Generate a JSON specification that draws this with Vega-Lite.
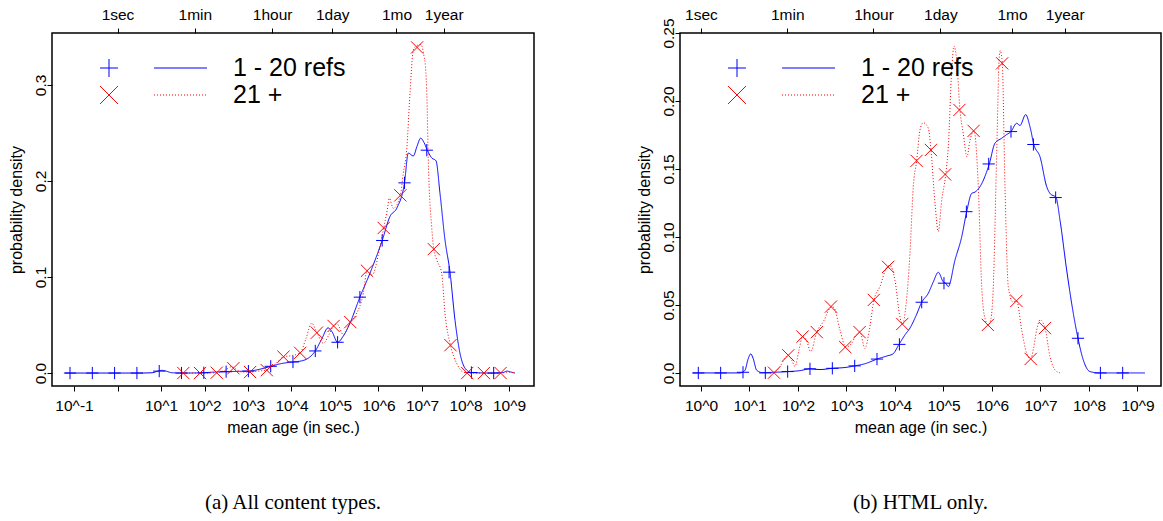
{
  "$schema": "https://vega.github.io/schema/vega-lite/v6.json",
  "autosize": {"type": "none"},
  "padding": {"left": 52, "top": 33, "right": 1111, "bottom": 488},
  "background": "white",
  "bounds": "flush",
  "spacing": 146,
  "datasets": {
    "curves_all": [
      {"refs":"1 - 20 refs","log10_age":-1.207,"density":0},
      {"refs":"1 - 20 refs","log10_age":-0.402,"density":0},
      {"refs":"1 - 20 refs","log10_age":0.517,"density":0},
      {"refs":"1 - 20 refs","log10_age":0.793,"density":0.0003},
      {"refs":"1 - 20 refs","log10_age":0.931,"density":0.002},
      {"refs":"1 - 20 refs","log10_age":1.023,"density":0.0028},
      {"refs":"1 - 20 refs","log10_age":1.115,"density":0.002},
      {"refs":"1 - 20 refs","log10_age":1.253,"density":0.0003},
      {"refs":"1 - 20 refs","log10_age":1.552,"density":0},
      {"refs":"1 - 20 refs","log10_age":1.897,"density":0.0002},
      {"refs":"1 - 20 refs","log10_age":2.241,"density":0.001},
      {"refs":"1 - 20 refs","log10_age":2.494,"density":0.0014},
      {"refs":"1 - 20 refs","log10_age":2.816,"density":0.0018},
      {"refs":"1 - 20 refs","log10_age":3.009,"density":0.002},
      {"refs":"1 - 20 refs","log10_age":3.276,"density":0.004},
      {"refs":"1 - 20 refs","log10_age":3.522,"density":0.007},
      {"refs":"1 - 20 refs","log10_age":3.782,"density":0.010},
      {"refs":"1 - 20 refs","log10_age":4.034,"density":0.0115},
      {"refs":"1 - 20 refs","log10_age":4.264,"density":0.013},
      {"refs":"1 - 20 refs","log10_age":4.402,"density":0.016},
      {"refs":"1 - 20 refs","log10_age":4.547,"density":0.023},
      {"refs":"1 - 20 refs","log10_age":4.701,"density":0.036},
      {"refs":"1 - 20 refs","log10_age":4.839,"density":0.047},
      {"refs":"1 - 20 refs","log10_age":4.931,"density":0.043},
      {"refs":"1 - 20 refs","log10_age":5.060,"density":0.032},
      {"refs":"1 - 20 refs","log10_age":5.184,"density":0.038},
      {"refs":"1 - 20 refs","log10_age":5.345,"density":0.052},
      {"refs":"1 - 20 refs","log10_age":5.572,"density":0.079},
      {"refs":"1 - 20 refs","log10_age":5.805,"density":0.104},
      {"refs":"1 - 20 refs","log10_age":6.085,"density":0.138},
      {"refs":"1 - 20 refs","log10_age":6.264,"density":0.163},
      {"refs":"1 - 20 refs","log10_age":6.425,"density":0.172},
      {"refs":"1 - 20 refs","log10_age":6.598,"density":0.198},
      {"refs":"1 - 20 refs","log10_age":6.685,"density":0.229},
      {"refs":"1 - 20 refs","log10_age":6.800,"density":0.226},
      {"refs":"1 - 20 refs","log10_age":6.885,"density":0.236},
      {"refs":"1 - 20 refs","log10_age":6.970,"density":0.2445},
      {"refs":"1 - 20 refs","log10_age":7.046,"density":0.240},
      {"refs":"1 - 20 refs","log10_age":7.122,"density":0.232},
      {"refs":"1 - 20 refs","log10_age":7.223,"density":0.224},
      {"refs":"1 - 20 refs","log10_age":7.322,"density":0.221},
      {"refs":"1 - 20 refs","log10_age":7.414,"density":0.187},
      {"refs":"1 - 20 refs","log10_age":7.529,"density":0.1385},
      {"refs":"1 - 20 refs","log10_age":7.644,"density":0.105},
      {"refs":"1 - 20 refs","log10_age":7.759,"density":0.055},
      {"refs":"1 - 20 refs","log10_age":7.874,"density":0.0205},
      {"refs":"1 - 20 refs","log10_age":8.028,"density":0.003},
      {"refs":"1 - 20 refs","log10_age":8.149,"density":0.0005},
      {"refs":"1 - 20 refs","log10_age":8.563,"density":0},
      {"refs":"1 - 20 refs","log10_age":8.862,"density":0.0005},
      {"refs":"1 - 20 refs","log10_age":8.954,"density":0.002},
      {"refs":"1 - 20 refs","log10_age":9.046,"density":0.001},
      {"refs":"1 - 20 refs","log10_age":9.138,"density":0},
      {"refs":"21 +","log10_age":1.437,"density":0},
      {"refs":"21 +","log10_age":1.513,"density":0},
      {"refs":"21 +","log10_age":1.897,"density":0},
      {"refs":"21 +","log10_age":2.280,"density":0.0003},
      {"refs":"21 +","log10_age":2.471,"density":0.003},
      {"refs":"21 +","log10_age":2.625,"density":0.0066},
      {"refs":"21 +","log10_age":2.724,"density":0.004},
      {"refs":"21 +","log10_age":2.862,"density":0.001},
      {"refs":"21 +","log10_age":3.048,"density":0.001},
      {"refs":"21 +","log10_age":3.230,"density":0.002},
      {"refs":"21 +","log10_age":3.432,"density":0.003},
      {"refs":"21 +","log10_age":3.621,"density":0.009},
      {"refs":"21 +","log10_age":3.816,"density":0.017},
      {"refs":"21 +","log10_age":3.989,"density":0.018},
      {"refs":"21 +","log10_age":4.200,"density":0.021},
      {"refs":"21 +","log10_age":4.333,"density":0.036},
      {"refs":"21 +","log10_age":4.464,"density":0.052},
      {"refs":"21 +","log10_age":4.584,"density":0.042},
      {"refs":"21 +","log10_age":4.731,"density":0.031},
      {"refs":"21 +","log10_age":4.862,"density":0.040},
      {"refs":"21 +","log10_age":4.977,"density":0.050},
      {"refs":"21 +","log10_age":5.046,"density":0.051},
      {"refs":"21 +","log10_age":5.191,"density":0.040},
      {"refs":"21 +","log10_age":5.352,"density":0.053},
      {"refs":"21 +","log10_age":5.483,"density":0.061},
      {"refs":"21 +","log10_age":5.651,"density":0.083},
      {"refs":"21 +","log10_age":5.736,"density":0.1065},
      {"refs":"21 +","log10_age":5.851,"density":0.102},
      {"refs":"21 +","log10_age":6.034,"density":0.1316},
      {"refs":"21 +","log10_age":6.120,"density":0.151},
      {"refs":"21 +","log10_age":6.202,"density":0.170},
      {"refs":"21 +","log10_age":6.248,"density":0.182},
      {"refs":"21 +","log10_age":6.340,"density":0.1715},
      {"refs":"21 +","log10_age":6.503,"density":0.185},
      {"refs":"21 +","log10_age":6.570,"density":0.208},
      {"refs":"21 +","log10_age":6.648,"density":0.232},
      {"refs":"21 +","log10_age":6.724,"density":0.291},
      {"refs":"21 +","log10_age":6.800,"density":0.336},
      {"refs":"21 +","log10_age":6.887,"density":0.341},
      {"refs":"21 +","log10_age":6.977,"density":0.342},
      {"refs":"21 +","log10_age":7.046,"density":0.330},
      {"refs":"21 +","log10_age":7.080,"density":0.319},
      {"refs":"21 +","log10_age":7.115,"density":0.284},
      {"refs":"21 +","log10_age":7.145,"density":0.222},
      {"refs":"21 +","log10_age":7.223,"density":0.152},
      {"refs":"21 +","log10_age":7.271,"density":0.129},
      {"refs":"21 +","log10_age":7.338,"density":0.118},
      {"refs":"21 +","log10_age":7.453,"density":0.104},
      {"refs":"21 +","log10_age":7.529,"density":0.062},
      {"refs":"21 +","log10_age":7.655,"density":0.029},
      {"refs":"21 +","log10_age":7.798,"density":0.010},
      {"refs":"21 +","log10_age":7.949,"density":0.001},
      {"refs":"21 +","log10_age":8.103,"density":0},
      {"refs":"21 +","log10_age":8.423,"density":0},
      {"refs":"21 +","log10_age":8.807,"density":0},
      {"refs":"21 +","log10_age":8.977,"density":0.001},
      {"refs":"21 +","log10_age":9.138,"density":0}
    ],
    "markers_all": [
      {"refs":"1 - 20 refs","log10_age":-1.092,"density":0},
      {"refs":"1 - 20 refs","log10_age":-0.579,"density":0},
      {"refs":"1 - 20 refs","log10_age":-0.067,"density":0},
      {"refs":"1 - 20 refs","log10_age":0.446,"density":0},
      {"refs":"1 - 20 refs","log10_age":0.959,"density":0.002},
      {"refs":"1 - 20 refs","log10_age":1.471,"density":0},
      {"refs":"1 - 20 refs","log10_age":1.984,"density":0.0003},
      {"refs":"1 - 20 refs","log10_age":2.497,"density":0.0014},
      {"refs":"1 - 20 refs","log10_age":3.009,"density":0.002},
      {"refs":"1 - 20 refs","log10_age":3.522,"density":0.007},
      {"refs":"1 - 20 refs","log10_age":4.034,"density":0.0115},
      {"refs":"1 - 20 refs","log10_age":4.547,"density":0.023},
      {"refs":"1 - 20 refs","log10_age":5.060,"density":0.032},
      {"refs":"1 - 20 refs","log10_age":5.572,"density":0.079},
      {"refs":"1 - 20 refs","log10_age":6.085,"density":0.138},
      {"refs":"1 - 20 refs","log10_age":6.598,"density":0.198},
      {"refs":"1 - 20 refs","log10_age":7.110,"density":0.232},
      {"refs":"1 - 20 refs","log10_age":7.623,"density":0.105},
      {"refs":"1 - 20 refs","log10_age":8.136,"density":0.0005},
      {"refs":"1 - 20 refs","log10_age":8.648,"density":0},
      {"refs":"21 +","log10_age":1.513,"density":0},
      {"refs":"21 +","log10_age":1.897,"density":0},
      {"refs":"21 +","log10_age":2.280,"density":0.0003},
      {"refs":"21 +","log10_age":2.664,"density":0.005},
      {"refs":"21 +","log10_age":3.048,"density":0.001},
      {"refs":"21 +","log10_age":3.432,"density":0.003},
      {"refs":"21 +","log10_age":3.816,"density":0.017},
      {"refs":"21 +","log10_age":4.200,"density":0.021},
      {"refs":"21 +","log10_age":4.584,"density":0.042},
      {"refs":"21 +","log10_age":4.968,"density":0.049},
      {"refs":"21 +","log10_age":5.352,"density":0.053},
      {"refs":"21 +","log10_age":5.736,"density":0.1065},
      {"refs":"21 +","log10_age":6.120,"density":0.151},
      {"refs":"21 +","log10_age":6.503,"density":0.185},
      {"refs":"21 +","log10_age":6.887,"density":0.339},
      {"refs":"21 +","log10_age":7.271,"density":0.129},
      {"refs":"21 +","log10_age":7.655,"density":0.029},
      {"refs":"21 +","log10_age":8.039,"density":0},
      {"refs":"21 +","log10_age":8.423,"density":0},
      {"refs":"21 +","log10_age":8.807,"density":0}
    ],
    "curves_html": [
      {"refs":"1 - 20 refs","log10_age":-0.165,"density":0},
      {"refs":"1 - 20 refs","log10_age":0.392,"density":0},
      {"refs":"1 - 20 refs","log10_age":0.804,"density":0},
      {"refs":"1 - 20 refs","log10_age":0.907,"density":0.002},
      {"refs":"1 - 20 refs","log10_age":0.969,"density":0.010},
      {"refs":"1 - 20 refs","log10_age":1.025,"density":0.014},
      {"refs":"1 - 20 refs","log10_age":1.072,"density":0.011},
      {"refs":"1 - 20 refs","log10_age":1.148,"density":0.002},
      {"refs":"1 - 20 refs","log10_age":1.258,"density":0.0003},
      {"refs":"1 - 20 refs","log10_age":1.526,"density":0.0005},
      {"refs":"1 - 20 refs","log10_age":1.788,"density":0.001},
      {"refs":"1 - 20 refs","log10_age":2.041,"density":0.0017},
      {"refs":"1 - 20 refs","log10_age":2.247,"density":0.003},
      {"refs":"1 - 20 refs","log10_age":2.454,"density":0.0025},
      {"refs":"1 - 20 refs","log10_age":2.707,"density":0.0034},
      {"refs":"1 - 20 refs","log10_age":2.969,"density":0.004},
      {"refs":"1 - 20 refs","log10_age":3.175,"density":0.0052},
      {"refs":"1 - 20 refs","log10_age":3.402,"density":0.007},
      {"refs":"1 - 20 refs","log10_age":3.629,"density":0.0102},
      {"refs":"1 - 20 refs","log10_age":3.835,"density":0.0125},
      {"refs":"1 - 20 refs","log10_age":3.959,"density":0.014},
      {"refs":"1 - 20 refs","log10_age":4.082,"density":0.021},
      {"refs":"1 - 20 refs","log10_age":4.206,"density":0.028},
      {"refs":"1 - 20 refs","log10_age":4.309,"density":0.033},
      {"refs":"1 - 20 refs","log10_age":4.433,"density":0.042},
      {"refs":"1 - 20 refs","log10_age":4.551,"density":0.052},
      {"refs":"1 - 20 refs","log10_age":4.687,"density":0.0586},
      {"refs":"1 - 20 refs","log10_age":4.790,"density":0.067},
      {"refs":"1 - 20 refs","log10_age":4.893,"density":0.074},
      {"refs":"1 - 20 refs","log10_age":4.996,"density":0.067},
      {"refs":"1 - 20 refs","log10_age":5.046,"density":0.066},
      {"refs":"1 - 20 refs","log10_age":5.099,"density":0.0635},
      {"refs":"1 - 20 refs","log10_age":5.237,"density":0.083},
      {"refs":"1 - 20 refs","log10_age":5.375,"density":0.100},
      {"refs":"1 - 20 refs","log10_age":5.478,"density":0.1186},
      {"refs":"1 - 20 refs","log10_age":5.581,"density":0.132},
      {"refs":"1 - 20 refs","log10_age":5.649,"density":0.133},
      {"refs":"1 - 20 refs","log10_age":5.753,"density":0.137},
      {"refs":"1 - 20 refs","log10_age":5.944,"density":0.1537},
      {"refs":"1 - 20 refs","log10_age":6.062,"density":0.169},
      {"refs":"1 - 20 refs","log10_age":6.200,"density":0.1726},
      {"refs":"1 - 20 refs","log10_age":6.289,"density":0.175},
      {"refs":"1 - 20 refs","log10_age":6.392,"density":0.1775},
      {"refs":"1 - 20 refs","log10_age":6.509,"density":0.1836},
      {"refs":"1 - 20 refs","log10_age":6.577,"density":0.182},
      {"refs":"1 - 20 refs","log10_age":6.695,"density":0.190},
      {"refs":"1 - 20 refs","log10_age":6.784,"density":0.181},
      {"refs":"1 - 20 refs","log10_age":6.866,"density":0.1676},
      {"refs":"1 - 20 refs","log10_age":6.990,"density":0.159},
      {"refs":"1 - 20 refs","log10_age":7.128,"density":0.137},
      {"refs":"1 - 20 refs","log10_age":7.196,"density":0.132},
      {"refs":"1 - 20 refs","log10_age":7.320,"density":0.129},
      {"refs":"1 - 20 refs","log10_age":7.402,"density":0.1125},
      {"refs":"1 - 20 refs","log10_age":7.540,"density":0.0757},
      {"refs":"1 - 20 refs","log10_age":7.676,"density":0.044},
      {"refs":"1 - 20 refs","log10_age":7.773,"density":0.0255},
      {"refs":"1 - 20 refs","log10_age":7.882,"density":0.0096},
      {"refs":"1 - 20 refs","log10_age":8.021,"density":0.001},
      {"refs":"1 - 20 refs","log10_age":8.227,"density":0},
      {"refs":"1 - 20 refs","log10_age":9.155,"density":0},
      {"refs":"21 +","log10_age":1.423,"density":0},
      {"refs":"21 +","log10_age":1.505,"density":0.0002},
      {"refs":"21 +","log10_age":1.629,"density":0.0047},
      {"refs":"21 +","log10_age":1.732,"density":0.011},
      {"refs":"21 +","log10_age":1.800,"density":0.013},
      {"refs":"21 +","log10_age":1.876,"density":0.009},
      {"refs":"21 +","log10_age":1.938,"density":0.0047},
      {"refs":"21 +","log10_age":2.021,"density":0.017},
      {"refs":"21 +","log10_age":2.097,"density":0.0267},
      {"refs":"21 +","log10_age":2.165,"density":0.025},
      {"refs":"21 +","log10_age":2.262,"density":0.0157},
      {"refs":"21 +","log10_age":2.386,"density":0.030},
      {"refs":"21 +","log10_age":2.522,"density":0.0377},
      {"refs":"21 +","log10_age":2.695,"density":0.0488},
      {"refs":"21 +","log10_age":2.742,"density":0.048},
      {"refs":"21 +","log10_age":2.866,"density":0.0316},
      {"refs":"21 +","log10_age":2.984,"density":0.019},
      {"refs":"21 +","log10_age":3.107,"density":0.0218},
      {"refs":"21 +","log10_age":3.196,"density":0.028},
      {"refs":"21 +","log10_age":3.278,"density":0.030},
      {"refs":"21 +","log10_age":3.381,"density":0.018},
      {"refs":"21 +","log10_age":3.464,"density":0.030},
      {"refs":"21 +","log10_age":3.567,"density":0.0537},
      {"refs":"21 +","log10_age":3.691,"density":0.0635},
      {"refs":"21 +","log10_age":3.835,"density":0.078},
      {"refs":"21 +","log10_age":3.897,"density":0.079},
      {"refs":"21 +","log10_age":4.000,"density":0.068},
      {"refs":"21 +","log10_age":4.103,"density":0.041},
      {"refs":"21 +","log10_age":4.159,"density":0.036},
      {"refs":"21 +","log10_age":4.227,"density":0.050},
      {"refs":"21 +","log10_age":4.309,"density":0.088},
      {"refs":"21 +","log10_age":4.377,"density":0.137},
      {"refs":"21 +","log10_age":4.447,"density":0.156},
      {"refs":"21 +","log10_age":4.515,"density":0.1787},
      {"refs":"21 +","log10_age":4.584,"density":0.184},
      {"refs":"21 +","log10_age":4.687,"density":0.180},
      {"refs":"21 +","log10_age":4.742,"density":0.164},
      {"refs":"21 +","log10_age":4.825,"density":0.1248},
      {"refs":"21 +","log10_age":4.893,"density":0.104},
      {"refs":"21 +","log10_age":4.963,"density":0.127},
      {"refs":"21 +","log10_age":5.046,"density":0.146},
      {"refs":"21 +","log10_age":5.099,"density":0.1664},
      {"refs":"21 +","log10_age":5.170,"density":0.2228},
      {"refs":"21 +","log10_age":5.216,"density":0.2404},
      {"refs":"21 +","log10_age":5.272,"density":0.230},
      {"refs":"21 +","log10_age":5.340,"density":0.1934},
      {"refs":"21 +","log10_age":5.408,"density":0.176},
      {"refs":"21 +","log10_age":5.485,"density":0.159},
      {"refs":"21 +","log10_age":5.546,"density":0.171},
      {"refs":"21 +","log10_age":5.629,"density":0.178},
      {"refs":"21 +","log10_age":5.718,"density":0.137},
      {"refs":"21 +","log10_age":5.788,"density":0.0635},
      {"refs":"21 +","log10_age":5.856,"density":0.040},
      {"refs":"21 +","log10_age":5.924,"density":0.0353},
      {"refs":"21 +","log10_age":5.979,"density":0.040},
      {"refs":"21 +","log10_age":6.027,"density":0.0635},
      {"refs":"21 +","log10_age":6.097,"density":0.1615},
      {"refs":"21 +","log10_age":6.150,"density":0.232},
      {"refs":"21 +","log10_age":6.171,"density":0.237},
      {"refs":"21 +","log10_age":6.212,"density":0.2277},
      {"refs":"21 +","log10_age":6.268,"density":0.137},
      {"refs":"21 +","log10_age":6.336,"density":0.0635},
      {"refs":"21 +","log10_age":6.427,"density":0.0524},
      {"refs":"21 +","log10_age":6.509,"density":0.053},
      {"refs":"21 +","log10_age":6.612,"density":0.0316},
      {"refs":"21 +","log10_age":6.715,"density":0.0145},
      {"refs":"21 +","log10_age":6.798,"density":0.0103},
      {"refs":"21 +","log10_age":6.856,"density":0.018},
      {"refs":"21 +","log10_age":6.922,"density":0.0316},
      {"refs":"21 +","log10_age":6.990,"density":0.039},
      {"refs":"21 +","log10_age":7.093,"density":0.033},
      {"refs":"21 +","log10_age":7.196,"density":0.012},
      {"refs":"21 +","log10_age":7.299,"density":0.0022},
      {"refs":"21 +","log10_age":7.402,"density":0}
    ],
    "markers_html": [
      {"refs":"1 - 20 refs","log10_age":-0.056,"density":0},
      {"refs":"1 - 20 refs","log10_age":0.405,"density":0},
      {"refs":"1 - 20 refs","log10_age":0.866,"density":0.0005},
      {"refs":"1 - 20 refs","log10_age":1.326,"density":0},
      {"refs":"1 - 20 refs","log10_age":1.787,"density":0.001},
      {"refs":"1 - 20 refs","log10_age":2.247,"density":0.003},
      {"refs":"1 - 20 refs","log10_age":2.708,"density":0.0034},
      {"refs":"1 - 20 refs","log10_age":3.169,"density":0.0052},
      {"refs":"1 - 20 refs","log10_age":3.629,"density":0.0102},
      {"refs":"1 - 20 refs","log10_age":4.091,"density":0.021},
      {"refs":"1 - 20 refs","log10_age":4.551,"density":0.052},
      {"refs":"1 - 20 refs","log10_age":5.010,"density":0.066},
      {"refs":"1 - 20 refs","log10_age":5.472,"density":0.1186},
      {"refs":"1 - 20 refs","log10_age":5.932,"density":0.1537},
      {"refs":"1 - 20 refs","log10_age":6.392,"density":0.1775},
      {"refs":"1 - 20 refs","log10_age":6.854,"density":0.168},
      {"refs":"1 - 20 refs","log10_age":7.313,"density":0.129},
      {"refs":"1 - 20 refs","log10_age":7.773,"density":0.0255},
      {"refs":"1 - 20 refs","log10_age":8.235,"density":0},
      {"refs":"1 - 20 refs","log10_age":8.695,"density":0},
      {"refs":"21 +","log10_age":1.505,"density":0.0002},
      {"refs":"21 +","log10_age":1.800,"density":0.013},
      {"refs":"21 +","log10_age":2.093,"density":0.0267},
      {"refs":"21 +","log10_age":2.388,"density":0.030},
      {"refs":"21 +","log10_age":2.680,"density":0.0488},
      {"refs":"21 +","log10_age":2.975,"density":0.019},
      {"refs":"21 +","log10_age":3.270,"density":0.030},
      {"refs":"21 +","log10_age":3.563,"density":0.0537},
      {"refs":"21 +","log10_age":3.858,"density":0.078},
      {"refs":"21 +","log10_age":4.150,"density":0.036},
      {"refs":"21 +","log10_age":4.445,"density":0.156},
      {"refs":"21 +","log10_age":4.740,"density":0.164},
      {"refs":"21 +","log10_age":5.033,"density":0.146},
      {"refs":"21 +","log10_age":5.328,"density":0.1934},
      {"refs":"21 +","log10_age":5.621,"density":0.178},
      {"refs":"21 +","log10_age":5.915,"density":0.0353},
      {"refs":"21 +","log10_age":6.210,"density":0.2277},
      {"refs":"21 +","log10_age":6.503,"density":0.053},
      {"refs":"21 +","log10_age":6.798,"density":0.0103},
      {"refs":"21 +","log10_age":7.091,"density":0.033}
    ]
  },
  "hconcat": [
    {
      "width": 482,
      "height": 353,
      "title": {"text": "(a) All content types.", "orient": "bottom", "frame": "group", "anchor": "middle", "font": "Liberation Serif", "fontSize": 21, "fontWeight": "normal", "color": "black", "offset": 56},
      "layer": [
        {
          "data": {"name": "curves_all"},
          "mark": {"type": "line", "interpolate": "monotone", "strokeWidth": 1},
          "encoding": {
            "x": {"field": "log10_age", "type": "quantitative", "scale": {"domain": [-1.506, 9.575], "nice": false, "zero": false},
              "axis": {"orient": "bottom", "values": [-1,0,1,2,3,4,5,6,7,8,9], "labelExpr": "datum.value == 0 ? '' : '10^' + datum.value", "title": "mean age (in sec.)", "labelBaseline": "top", "labelPadding": 7, "titlePadding": 6}},
            "y": {"field": "density", "type": "quantitative", "scale": {"domain": [-0.0135, 0.354], "nice": false, "zero": false},
              "axis": {"orient": "left", "values": [0, 0.1, 0.2, 0.3], "labelExpr": "format(datum.value, '.1f')", "title": "probability density", "labelAngle": -90, "labelAlign": "center", "labelBaseline": "alphabetic", "labelPadding": 2, "titlePadding": 9}},
            "color": {"field": "refs", "type": "nominal", "scale": {"domain": ["1 - 20 refs", "21 +"], "range": ["#0000ff", "#ff0000"]},
              "legend": {"orient": "none", "legendX": 116, "legendY": 22.5, "title": null, "padding": 0, "symbolType": "M-2.944,0H2.944", "symbolSize": 324, "symbolStrokeWidth": 1, "labelFont": "Liberation Sans", "labelFontSize": 25, "labelColor": "black", "labelOffset": 40, "rowPadding": 1}},
            "strokeDash": {"field": "refs", "type": "nominal", "scale": {"domain": ["1 - 20 refs", "21 +"], "range": [[1, 0], [1, 2]]},
              "legend": {"orient": "none", "legendX": 116, "legendY": 22.5, "title": null, "padding": 0, "symbolType": "M-2.944,0H2.944", "symbolSize": 324, "symbolStrokeWidth": 1, "labelFont": "Liberation Sans", "labelFontSize": 25, "labelColor": "black", "labelOffset": 40, "rowPadding": 1}}
          }
        },
        {
          "data": {"name": "markers_all"},
          "mark": {"type": "point", "filled": false, "size": 150, "strokeWidth": 1, "opacity": 1},
          "encoding": {
            "x": {"field": "log10_age", "type": "quantitative", "scale": {"domain": [-1.506, 9.575], "nice": false, "zero": false},
              "axis": {"orient": "top", "values": [0, 1.77815, 3.5563, 4.93651, 6.41363, 7.49881], "labelExpr": "datum.value < 0.5 ? '1sec' : datum.value < 2 ? '1min' : datum.value < 4 ? '1hour' : datum.value < 5.5 ? '1day' : datum.value < 7 ? '1mo' : '1year'", "title": null, "labelBaseline": "alphabetic", "labelPadding": 9}},
            "y": {"field": "density", "type": "quantitative", "scale": {"domain": [-0.0135, 0.354], "nice": false, "zero": false},
              "axis": {"orient": "left", "values": [0, 0.1, 0.2, 0.3], "labelExpr": "format(datum.value, '.1f')", "title": "probability density", "labelAngle": -90, "labelAlign": "center", "labelBaseline": "alphabetic", "labelPadding": 2, "titlePadding": 9}},
            "color": {"field": "refs", "type": "nominal", "scale": {"domain": ["1 - 20 refs", "21 +"], "range": ["#0000ff", "#ff0000"]},
              "legend": {"orient": "none", "legendX": 44.5, "legendY": 22.5, "title": null, "padding": 0, "symbolSize": 324, "symbolStrokeWidth": 1, "labelFont": "Liberation Sans", "labelFontSize": 25, "labelExpr": "' '", "labelOpacity": 0, "labelOffset": 0, "rowPadding": 1}},
            "shape": {"field": "refs", "type": "nominal", "scale": {"domain": ["1 - 20 refs", "21 +"], "range": ["M-1,0H1M0,-1V1", "M-1,-1L1,1M-1,1L1,-1"]},
              "legend": {"orient": "none", "legendX": 44.5, "legendY": 22.5, "title": null, "padding": 0, "symbolSize": 324, "symbolStrokeWidth": 1, "labelFont": "Liberation Sans", "labelFontSize": 25, "labelExpr": "' '", "labelOpacity": 0, "labelOffset": 0, "rowPadding": 1}}
          }
        }
      ],
      "resolve": {"scale": {"color": "independent", "shape": "independent", "strokeDash": "independent"}, "axis": {"x": "independent"}}
    },
    {
      "width": 481,
      "height": 353,
      "title": {"text": "(b) HTML only.", "orient": "bottom", "frame": "group", "anchor": "middle", "font": "Liberation Serif", "fontSize": 21, "fontWeight": "normal", "color": "black", "offset": 56},
      "layer": [
        {
          "data": {"name": "curves_html"},
          "mark": {"type": "line", "interpolate": "monotone", "strokeWidth": 1},
          "encoding": {
            "x": {"field": "log10_age", "type": "quantitative", "scale": {"domain": [-0.433, 9.485], "nice": false, "zero": false},
              "axis": {"orient": "bottom", "values": [0,1,2,3,4,5,6,7,8,9], "labelExpr": "'10^' + datum.value", "title": "mean age (in sec.)", "labelBaseline": "top", "labelPadding": 7, "titlePadding": 6}},
            "y": {"field": "density", "type": "quantitative", "scale": {"domain": [-0.0096, 0.25], "nice": false, "zero": false},
              "axis": {"orient": "left", "values": [0, 0.05, 0.1, 0.15, 0.2, 0.25], "labelExpr": "datum.value == 0 ? '0.0' : format(datum.value, '.2f')", "title": "probability density", "labelAngle": -90, "labelAlign": "center", "labelBaseline": "alphabetic", "labelPadding": 2, "titlePadding": 9}},
            "color": {"field": "refs", "type": "nominal", "scale": {"domain": ["1 - 20 refs", "21 +"], "range": ["#0000ff", "#ff0000"]},
              "legend": {"orient": "none", "legendX": 116, "legendY": 22.5, "title": null, "padding": 0, "symbolType": "M-2.944,0H2.944", "symbolSize": 324, "symbolStrokeWidth": 1, "labelFont": "Liberation Sans", "labelFontSize": 25, "labelColor": "black", "labelOffset": 40, "rowPadding": 1}},
            "strokeDash": {"field": "refs", "type": "nominal", "scale": {"domain": ["1 - 20 refs", "21 +"], "range": [[1, 0], [1, 2]]},
              "legend": {"orient": "none", "legendX": 116, "legendY": 22.5, "title": null, "padding": 0, "symbolType": "M-2.944,0H2.944", "symbolSize": 324, "symbolStrokeWidth": 1, "labelFont": "Liberation Sans", "labelFontSize": 25, "labelColor": "black", "labelOffset": 40, "rowPadding": 1}}
          }
        },
        {
          "data": {"name": "markers_html"},
          "mark": {"type": "point", "filled": false, "size": 150, "strokeWidth": 1, "opacity": 1},
          "encoding": {
            "x": {"field": "log10_age", "type": "quantitative", "scale": {"domain": [-0.433, 9.485], "nice": false, "zero": false},
              "axis": {"orient": "top", "values": [0, 1.77815, 3.5563, 4.93651, 6.41363, 7.49881], "labelExpr": "datum.value < 0.5 ? '1sec' : datum.value < 2 ? '1min' : datum.value < 4 ? '1hour' : datum.value < 5.5 ? '1day' : datum.value < 7 ? '1mo' : '1year'", "title": null, "labelBaseline": "alphabetic", "labelPadding": 9}},
            "y": {"field": "density", "type": "quantitative", "scale": {"domain": [-0.0096, 0.25], "nice": false, "zero": false},
              "axis": {"orient": "left", "values": [0, 0.05, 0.1, 0.15, 0.2, 0.25], "labelExpr": "datum.value == 0 ? '0.0' : format(datum.value, '.2f')", "title": "probability density", "labelAngle": -90, "labelAlign": "center", "labelBaseline": "alphabetic", "labelPadding": 2, "titlePadding": 9}},
            "color": {"field": "refs", "type": "nominal", "scale": {"domain": ["1 - 20 refs", "21 +"], "range": ["#0000ff", "#ff0000"]},
              "legend": {"orient": "none", "legendX": 44.5, "legendY": 22.5, "title": null, "padding": 0, "symbolSize": 324, "symbolStrokeWidth": 1, "labelFont": "Liberation Sans", "labelFontSize": 25, "labelExpr": "' '", "labelOpacity": 0, "labelOffset": 0, "rowPadding": 1}},
            "shape": {"field": "refs", "type": "nominal", "scale": {"domain": ["1 - 20 refs", "21 +"], "range": ["M-1,0H1M0,-1V1", "M-1,-1L1,1M-1,1L1,-1"]},
              "legend": {"orient": "none", "legendX": 44.5, "legendY": 22.5, "title": null, "padding": 0, "symbolSize": 324, "symbolStrokeWidth": 1, "labelFont": "Liberation Sans", "labelFontSize": 25, "labelExpr": "' '", "labelOpacity": 0, "labelOffset": 0, "rowPadding": 1}}
          }
        }
      ],
      "resolve": {"scale": {"color": "independent", "shape": "independent", "strokeDash": "independent"}, "axis": {"x": "independent"}}
    }
  ],
  "resolve": {"scale": {"color": "independent", "shape": "independent", "strokeDash": "independent"}},
  "config": {
    "font": "Liberation Sans",
    "view": {"stroke": "black", "strokeWidth": 1.5},
    "axis": {
      "domain": false,
      "grid": false,
      "ticks": true,
      "tickSize": 5,
      "tickWidth": 1,
      "tickColor": "black",
      "labelFont": "Liberation Sans",
      "labelFontSize": 15.5,
      "labelColor": "black",
      "labelFlush": false,
      "labelOverlap": false,
      "labelBound": false,
      "titleFont": "Liberation Sans",
      "titleFontSize": 16,
      "titleFontWeight": "normal",
      "titleColor": "black"
    }
  }
}
